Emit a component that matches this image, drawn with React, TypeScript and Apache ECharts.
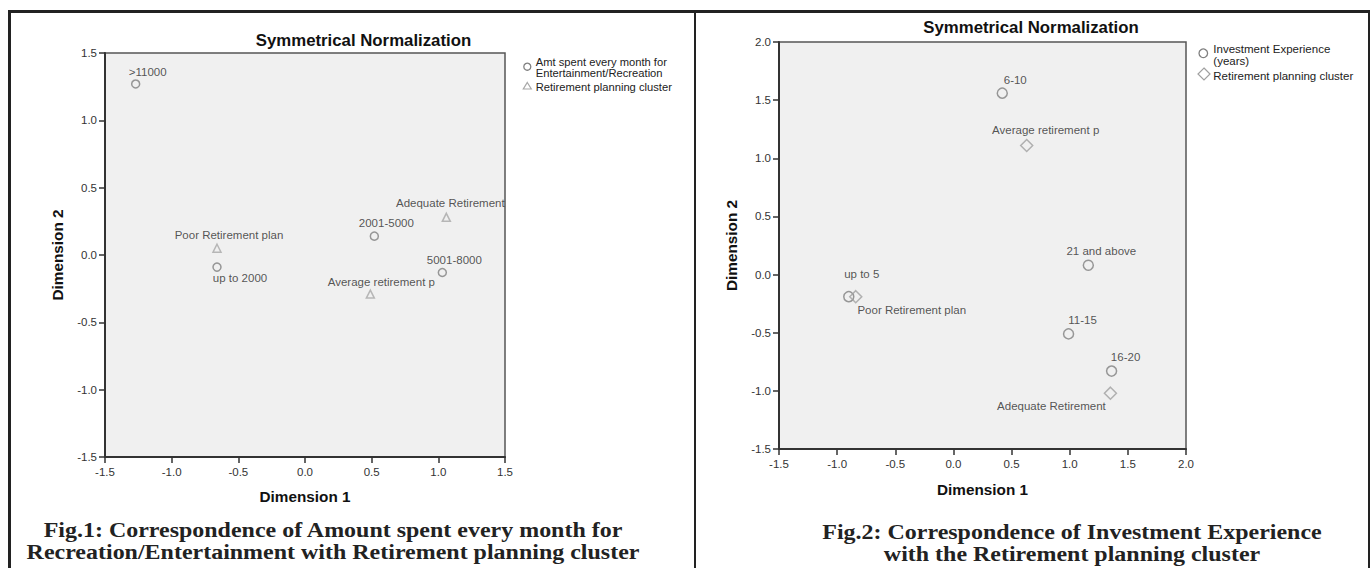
import React, { useEffect, useRef } from 'react';
import * as echarts from 'echarts';

// ---------- Data ----------
const leftCategoryNames = ['>11000', '2001-5000', '5001-8000', 'up to 2000'];
const leftCategoryX = [-1.27, 0.52, 1.03, -0.66];
const leftCategoryY = [1.27, 0.14, -0.13, -0.09];

const leftClusterNames = ['Adequate Retirement', 'Poor Retirement plan', 'Average retirement p'];
const leftClusterX = [1.06, -0.66, 0.49];
const leftClusterY = [0.28, 0.05, -0.29];

const rightCategoryNames = ['6-10', '21 and above', 'up to 5', '11-15', '16-20'];
const rightCategoryX = [0.42, 1.16, -0.9, 0.99, 1.36];
const rightCategoryY = [1.56, 0.08, -0.19, -0.51, -0.83];

const rightClusterNames = ['Average retirement p', 'Poor Retirement plan', 'Adequate Retirement'];
const rightClusterX = [0.63, -0.84, 1.35];
const rightClusterY = [1.11, -0.19, -1.02];

// label placement (pixel offsets from the marker), kept apart from the data
const leftCategoryLabelOffsets = [[12, -12], [12, -13], [12, -13], [23, 11]];
const leftClusterLabelOffsets = [[4, -14], [12, -13], [11, -12]];
const rightCategoryLabelOffsets = [[13, -13], [13, -14], [13, -23], [14, -14], [14, -14]];
const rightClusterLabelOffsets = [[19, -15], [56, 13], [-59, 13]];

const SANS = '"Liberation Sans", Arial, Helvetica, sans-serif';
const SERIF = '"Liberation Serif", "Times New Roman", Times, serif';

function buildData(names: string[], xs: number[], ys: number[], offsets: number[][]) {
  return names.map((n, i) => ({
    name: n,
    value: [xs[i], ys[i]],
    label: { offset: offsets[i] },
  }));
}

function xAxis(gridIndex: number, min: number, max: number, nameGap: number) {
  return {
    type: 'value',
    gridIndex,
    min,
    max,
    interval: 0.5,
    name: 'Dimension 1',
    nameLocation: 'middle',
    nameGap,
    nameTextStyle: { fontFamily: SANS, fontWeight: 'bold', fontSize: 15.3, color: '#111' },
    axisLine: { show: true, onZero: false, lineStyle: { color: '#333', width: 2 } },
    axisTick: { show: true, length: 6, lineStyle: { color: '#333', width: 1.5 } },
    axisLabel: {
      margin: 9,
      fontSize: 11.5,
      color: '#333',
      fontFamily: SANS,
      formatter: (v: number) => v.toFixed(1),
    },
    splitLine: { show: false },
  };
}

function yAxis(gridIndex: number, min: number, max: number, nameGap: number) {
  return {
    type: 'value',
    gridIndex,
    min,
    max,
    interval: 0.5,
    name: 'Dimension 2',
    nameLocation: 'middle',
    nameRotate: 90,
    nameGap,
    nameTextStyle: { fontFamily: SANS, fontWeight: 'bold', fontSize: 15.3, color: '#111' },
    axisLine: { show: true, onZero: false, lineStyle: { color: '#333', width: 2 } },
    axisTick: { show: true, length: 6, lineStyle: { color: '#333', width: 1.5 } },
    axisLabel: {
      margin: 8,
      fontSize: 11.5,
      color: '#333',
      fontFamily: SANS,
      formatter: (v: number) => v.toFixed(1),
    },
    splitLine: { show: false },
  };
}

const labelStyle = {
  show: true,
  position: 'inside',
  formatter: '{b}',
  fontFamily: SANS,
  fontSize: 11.5,
  color: '#2a2a2a',
  align: 'center',
  verticalAlign: 'middle',
};

function scatter(
  xi: number,
  symbol: string,
  size: number,
  stroke: string,
  data: any[],
) {
  return {
    type: 'scatter',
    xAxisIndex: xi,
    yAxisIndex: xi,
    symbol,
    symbolSize: size,
    silent: true,
    itemStyle: { color: 'rgba(0,0,0,0)', borderColor: stroke, borderWidth: 1.5 },
    label: labelStyle,
    emphasis: { disabled: true },
    data,
  };
}

function legendText(x: number, y: number, text: string, size: number) {
  return {
    type: 'text',
    x,
    y,
    style: {
      text,
      fontFamily: SANS,
      fontSize: size,
      fill: '#222',
      align: 'left',
      verticalAlign: 'middle',
    },
  };
}

// caption: serif bold, slightly stretched horizontally like the source PDF
function caption(x: number, y: number, text: string) {
  return {
    type: 'text',
    x,
    y,
    scaleX: 1.12,
    style: {
      text,
      fontFamily: SERIF,
      fontWeight: 'bold',
      fontSize: 21.4,
      fill: '#222',
      align: 'center',
      verticalAlign: 'middle',
    },
  };
}

function title(x: number, y: number) {
  return {
    type: 'text',
    x,
    y,
    style: {
      text: 'Symmetrical Normalization',
      fontFamily: SANS,
      fontWeight: 'bold',
      fontSize: 16.8,
      fill: '#111',
      align: 'center',
      verticalAlign: 'middle',
    },
  };
}

const option: any = {
  animation: false,
  backgroundColor: '#ffffff',
  grid: [
    {
      left: 105,
      top: 53,
      width: 400,
      height: 404,
      show: true,
      backgroundColor: '#f0f0f0',
      borderColor: '#555',
      borderWidth: 1.5,
    },
    {
      left: 779,
      top: 42,
      width: 407,
      height: 407,
      show: true,
      backgroundColor: '#f0f0f0',
      borderColor: '#555',
      borderWidth: 1.5,
    },
  ],
  xAxis: [xAxis(0, -1.5, 1.5, 32), xAxis(1, -1.5, 2.0, 33)],
  yAxis: [yAxis(0, -1.5, 1.5, 40), yAxis(1, -1.5, 2.0, 40)],
  series: [
    scatter(0, 'circle', 8, '#808080', buildData(leftCategoryNames, leftCategoryX, leftCategoryY, leftCategoryLabelOffsets)),
    scatter(0, 'triangle', 8, '#a8a8a8', buildData(leftClusterNames, leftClusterX, leftClusterY, leftClusterLabelOffsets)),
    scatter(1, 'circle', 10, '#808080', buildData(rightCategoryNames, rightCategoryX, rightCategoryY, rightCategoryLabelOffsets)),
    scatter(1, 'diamond', 12, '#a0a0a0', buildData(rightClusterNames, rightClusterX, rightClusterY, rightClusterLabelOffsets)),
  ],
  graphic: [
    // frame
    { type: 'line', shape: { x1: 8, y1: 11.5, x2: 1370, y2: 11.5 }, style: { stroke: '#222', lineWidth: 3 } },
    { type: 'line', shape: { x1: 9.5, y1: 10, x2: 9.5, y2: 568 }, style: { stroke: '#222', lineWidth: 3 } },
    { type: 'line', shape: { x1: 695, y1: 10, x2: 695, y2: 568 }, style: { stroke: '#222', lineWidth: 2 } },
    { type: 'line', shape: { x1: 1369, y1: 10, x2: 1369, y2: 568 }, style: { stroke: '#222', lineWidth: 2 } },
    // titles
    title(363.5, 40),
    title(1031, 27),
    // left legend
    { type: 'circle', shape: { cx: 527.3, cy: 66.7, r: 3.5 }, style: { fill: 'none', stroke: '#808080', lineWidth: 1.3 } },
    legendText(535.7, 61.7, 'Amt spent every month for', 11.2),
    legendText(535.7, 72.7, 'Entertainment/Recreation', 11.2),
    { type: 'polygon', shape: { points: [[527.3, 82.5], [531.3, 89], [523.3, 89]] }, style: { fill: 'none', stroke: '#a8a8a8', lineWidth: 1.2 } },
    legendText(535.7, 87, 'Retirement planning cluster', 11.2),
    // right legend
    { type: 'circle', shape: { cx: 1203.3, cy: 53.3, r: 4.3 }, style: { fill: 'none', stroke: '#808080', lineWidth: 1.3 } },
    legendText(1213.3, 49.3, 'Investment Experience', 11.5),
    legendText(1213.3, 61, '(years)', 11.5),
    { type: 'polygon', shape: { points: [[1204, 68], [1210, 74], [1204, 80], [1198, 74]] }, style: { fill: 'none', stroke: '#a0a0a0', lineWidth: 1.2 } },
    legendText(1213.3, 75.5, 'Retirement planning cluster', 11.5),
    // captions
    caption(333, 530, 'Fig.1: Correspondence of Amount spent every month for'),
    caption(333, 552, 'Recreation/Entertainment with Retirement planning cluster'),
    caption(1072, 532, 'Fig.2: Correspondence of Investment Experience'),
    caption(1072, 554, 'with the Retirement planning cluster'),
  ],
};

export default function App() {
  const ref = useRef<HTMLDivElement>(null);
  useEffect(() => {
    if (!ref.current) return;
    const chart = echarts.init(ref.current, null, { renderer: 'svg' });
    chart.setOption(option);
    return () => chart.dispose();
  }, []);
  return (
    <div
      ref={ref}
      style={{ position: 'fixed', left: 0, top: 0, width: 1370, height: 568, background: '#fff' }}
    />
  );
}
